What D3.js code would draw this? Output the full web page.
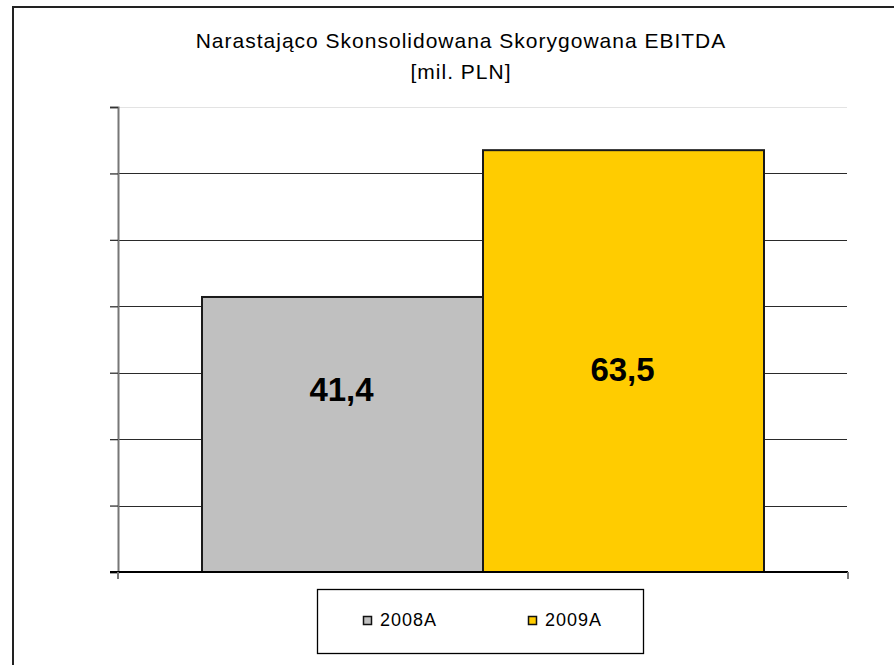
<!DOCTYPE html>
<html>
<head>
<meta charset="utf-8">
<script src="https://d3js.org/d3.v7.min.js"></script>
<style>
  body { margin: 0; background: #fff; }
  text { font-family: "Liberation Sans", Arial, sans-serif; }
</style>
</head>
<body>
<svg id="chart" width="894" height="665"></svg>
<script>
// data
var series = ["2008A", "2009A"];
var values = [41.4, 63.5];
var labels = ["41,4", "63,5"];
var colors = ["#c0c0c0", "#ffcc00"];
var yTicks = [0, 10, 20, 30, 40, 50, 60, 70];

var svg = d3.select("#chart");

// outer frame
svg.append("rect")
    .attr("x", 13).attr("y", 7)
    .attr("width", 920).attr("height", 700)
    .attr("fill", "none")
    .attr("stroke", "#222")
    .attr("stroke-width", 2);

// title
svg.append("text")
    .attr("x", 461).attr("y", 48)
    .attr("text-anchor", "middle")
    .style("font-size", "21px")
    .style("letter-spacing", "1px")
    .text("Narastająco Skonsolidowana Skorygowana EBITDA");
svg.append("text")
    .attr("x", 461).attr("y", 79)
    .attr("text-anchor", "middle")
    .style("font-size", "21px")
    .style("letter-spacing", "1px")
    .text("[mil. PLN]");

var plotLeft = 118, plotRight = 848, plotTop = 107, plotBottom = 572;

var y = d3.scaleLinear().domain([0, 70]).range([plotBottom, plotTop]);
var x = d3.scaleBand().domain(series).range([202, 764]).padding(0);

// gridlines
svg.append("g").selectAll("line")
    .data(yTicks.slice(1))
    .enter().append("line")
    .attr("x1", plotLeft).attr("x2", plotRight - 1)
    .attr("y1", function (d) { return Math.round(y(d)) + 0.5; })
    .attr("y2", function (d) { return Math.round(y(d)) + 0.5; })
    .attr("stroke", function (d) { return d === 70 ? "#e3e3e3" : "#2a2a2a"; })
    .attr("stroke-width", 1.2);

// y axis
var yAxis = svg.append("g")
    .attr("transform", "translate(" + plotLeft + ",0)")
    .call(d3.axisLeft(y).tickValues(yTicks).tickSize(8).tickFormat(""));
yAxis.select(".domain").attr("stroke", "#777").attr("stroke-width", 2);
yAxis.selectAll(".tick line").attr("stroke", "#333").attr("stroke-width", 1.3);

// bars
svg.append("g").selectAll("rect")
    .data(values)
    .enter().append("rect")
    .attr("x", function (d, i) { return x(series[i]); })
    .attr("y", function (d) { return y(d); })
    .attr("width", x.bandwidth())
    .attr("height", function (d) { return plotBottom - y(d); })
    .attr("fill", function (d, i) { return colors[i]; })
    .attr("stroke", "#1a1a1a")
    .attr("stroke-width", 2);

// x axis
svg.append("line")
    .attr("x1", 110).attr("x2", plotRight)
    .attr("y1", plotBottom).attr("y2", plotBottom)
    .attr("stroke", "#000").attr("stroke-width", 2);
[plotLeft, plotRight].forEach(function (px) {
    svg.append("line")
        .attr("x1", px).attr("x2", px)
        .attr("y1", plotBottom).attr("y2", plotBottom + 7)
        .attr("stroke", "#777").attr("stroke-width", 2);
});

// value labels (Excel puts them at these heights)
var labelAt = [25.7, 28.7];
svg.append("g").selectAll("text")
    .data(labels)
    .enter().append("text")
    .attr("x", function (d, i) { return x(series[i]) + x.bandwidth() / 2 - 1; })
    .attr("y", function (d, i) { return y(labelAt[i]); })
    .attr("text-anchor", "middle")
    .style("font-size", "33px")
    .style("font-weight", "bold")
    .text(function (d) { return d; });

// legend
var legend = svg.append("g");
legend.append("rect")
    .attr("x", 317.5).attr("y", 589.5)
    .attr("width", 326).attr("height", 64)
    .attr("fill", "#fff")
    .attr("stroke", "#000").attr("stroke-width", 1.3);
var legX = [363, 528];
series.forEach(function (s, i) {
    legend.append("rect")
        .attr("x", legX[i] + 0.5).attr("y", 616.5)
        .attr("width", 8).attr("height", 8)
        .attr("fill", colors[i])
        .attr("stroke", "#111").attr("stroke-width", 1.5);
    legend.append("text")
        .attr("x", legX[i] + 17).attr("y", 626)
        .style("font-size", "18px")
        .style("letter-spacing", "1px")
        .text(s);
});
</script>
</body>
</html>
